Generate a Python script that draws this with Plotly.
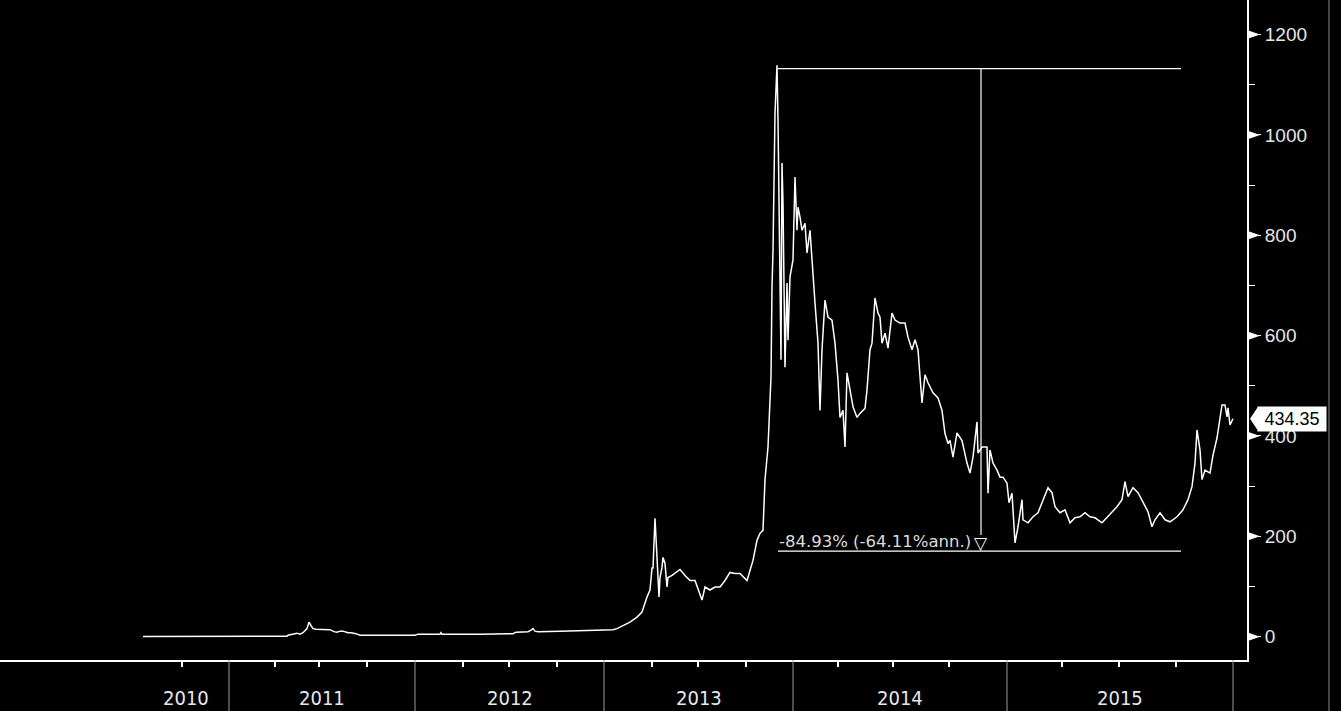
import plotly.graph_objects as go

# ---- data: Bloomberg session index (x) and XBT price in USD (y) ----
obs = [0, 17, 39, 57, 86, 107, 132, 144, 145, 150, 154, 157, 160, 164, 166, 168, 170, 173,
       177, 187, 191, 194, 197, 200, 205, 208, 213, 217, 227, 272, 275, 297, 298, 299, 337,
       370, 373, 385, 388, 390, 392, 395, 417, 445, 447, 470, 474, 479, 487, 494, 499, 504,
       507, 509, 510, 512, 514, 516, 517, 519, 520, 522, 524, 525, 529, 537, 542, 547, 552,
       557, 559, 562, 567, 572, 577, 582, 587, 592, 597, 604, 607, 610, 614, 617, 620, 622,
       625, 628, 629, 630, 632, 634, 635, 638, 639, 640, 642, 644, 645, 647, 650, 652, 654,
       655, 657, 659, 662, 664, 667, 669, 672, 675, 677, 679, 682, 685, 689, 692, 695, 697,
       700, 702, 704, 707, 710, 714, 717, 722, 724, 727, 729, 732, 735, 737, 739, 742, 745,
       749, 752, 757, 762, 765, 769, 772, 775, 779, 782, 785, 790, 795, 799, 802, 805, 807,
       810, 814, 819, 824, 827, 830, 834, 835, 839, 844, 845, 847, 850, 854, 857, 860, 864,
       866, 869, 872, 875, 879, 880, 885, 890, 895, 900, 905, 909, 912, 917, 922, 927, 932,
       937, 942, 947, 952, 959, 964, 969, 974, 979, 982, 985, 990, 995, 1000, 1005, 1009,
       1012, 1017, 1022, 1027, 1034, 1040, 1045, 1049, 1052, 1054, 1057, 1059, 1062, 1067,
       1070, 1074, 1077, 1079, 1082, 1084, 1085, 1087, 1090]
price = [0.1, 0.1, 0.1, 0.2, 0.3, 0.8, 0.8, 1, 3, 6, 7, 5, 8, 16, 29, 22, 16, 15,
         15, 14, 10, 9, 11, 11, 8, 8, 6, 3, 3, 3, 5, 5, 8, 5, 5,
         6, 9, 10, 13, 16, 11, 10, 11, 12, 13, 14, 16, 21, 29, 39, 49, 79,
         93, 137, 137, 236, 158, 79, 118, 138, 158, 146, 99, 118, 122, 134, 122, 112, 112,
         83, 73, 99, 93, 99, 99, 112, 128, 126, 126, 112, 132, 152, 192, 206, 212, 313,
         378, 518, 696, 770, 1043, 1139, 1029, 552, 944, 865, 537, 705, 591, 717, 751, 916, 810,
         856, 836, 810, 824, 765, 810, 745, 665, 585, 451, 572, 671, 637, 631, 585, 511, 437,
         451, 378, 526, 492, 458, 437, 445, 455, 492, 572, 585, 675, 645, 637, 585, 605,
         575, 645, 631, 625, 625, 597, 572, 592, 572, 466, 522, 506, 486, 476, 451, 405,
         385, 391, 358, 406, 391, 346, 326, 358, 428, 366, 378, 378, 286, 372, 346, 332,
         318, 318, 306, 267, 286, 187, 219, 273, 233, 227, 239, 247, 273, 297, 287, 259,
         247, 253, 227, 237, 239, 247, 239, 237, 227, 237, 249, 259, 273, 309, 279, 297,
         287, 269, 249, 219, 233, 247, 233, 229, 239, 253, 273, 299, 346, 412, 372, 313,
         332, 326, 362, 396, 438, 462, 462, 438, 456, 422, 434.35]

years = ["2010", "2011", "2012", "2013", "2014", "2015"]
year_start_obs = [0, 86, 272, 461, 650, 864]
year_end_obs = [86, 272, 461, 650, 864, 1090]
quarter_obs = [39, 132, 176, 224, 320, 366, 414, 509, 555, 603, 695, 750, 806, 919, 976, 1033]
y_ticks = [0, 200, 400, 600, 800, 1000, 1200]

peak_obs, peak_value = 635, 1132.26
trough_value = 170.6
measure_end_obs = 1038
arrow_obs = 838
drawdown_text = "-84.93% (-64.11%ann.)"
last_value = 434.35

X_RANGE = [-143, 1104]
Y_RANGE = [-46.5, 1269]

fig = go.Figure()
fig.add_trace(go.Scatter(x=obs, y=price, mode="lines",
                         line=dict(color="white", width=1.5), hoverinfo="skip",
                         showlegend=False))

shapes = []
# drawdown measurement lines
shapes.append(dict(type="line", xref="x", yref="y", x0=peak_obs, x1=measure_end_obs,
                   y0=peak_value, y1=peak_value, line=dict(color="white", width=1.3)))
shapes.append(dict(type="line", xref="x", yref="y", x0=peak_obs, x1=measure_end_obs,
                   y0=trough_value, y1=trough_value, line=dict(color="white", width=1.3)))
shapes.append(dict(type="line", xref="x", yref="y", x0=arrow_obs, x1=arrow_obs,
                   y0=peak_value, y1=trough_value + 32, line=dict(color="white", width=1.2)))
# year separators below the axis
for b in year_end_obs:
    shapes.append(dict(type="line", xref="x", yref="paper", x0=b, x1=b, y0=0, y1=-0.09,
                       line=dict(color="#9a9a9a", width=1)))
# arrow-shaped major y ticks
pw = 1247.0
ppu = 660.0 / (Y_RANGE[1] - Y_RANGE[0])
for v in y_ticks:
    h = 4.5 / ppu
    shapes.append(dict(type="path", xref="paper", yref="y",
                       path=f"M 1.0,{v - h} L 1.0,{v + h} L {1 + 13 / pw},{v} Z",
                       fillcolor="white", line=dict(color="white", width=0)))
# last price pointer
h = 12 / ppu
shapes.append(dict(type="path", xref="paper", yref="y",
                   path=f"M {1250 / pw},{last_value} L {1258 / pw},{last_value + h} L {1258 / pw},{last_value - h} Z",
                   fillcolor="white", line=dict(color="white", width=0)))
# right border line
shapes.append(dict(type="line", xref="paper", yref="paper", x0=1329 / pw, x1=1329 / pw,
                   y0=-0.1, y1=1.0, line=dict(color="#444444", width=2)))

annotations = []
for yr, a, b in zip(years, year_start_obs, year_end_obs):
    annotations.append(dict(x=(a + b) / 2, y=-0.057, xref="x", yref="paper", text=yr,
                            showarrow=False, xanchor="center", yanchor="middle",
                            font=dict(family="Liberation Sans Narrow, DejaVu Sans Condensed",
                                      size=20, color="#e8e8e8")))
annotations.append(dict(x=arrow_obs - 8, y=trough_value + 19, xref="x", yref="y",
                        text=drawdown_text, showarrow=False, xanchor="right", yanchor="middle",
                        font=dict(family="DejaVu Sans", size=16.5, color="#dcdcdc")))
annotations.append(dict(x=arrow_obs, y=trough_value + 16, xref="x", yref="y", text="▽",
                        showarrow=False, xanchor="center", yanchor="middle",
                        font=dict(family="DejaVu Sans", size=17, color="white")))
annotations.append(dict(x=1, xshift=10, y=last_value, xref="paper", yref="y",
                        text="434.35", showarrow=False, xanchor="left", yanchor="middle",
                        bgcolor="white", width=68, height=24, borderpad=0,
                        font=dict(family="Liberation Sans", size=18, color="black")))

fig.update_layout(
    width=1341, height=711,
    margin=dict(l=0, r=94, t=0, b=51),
    paper_bgcolor="black", plot_bgcolor="black",
    showlegend=False,
    shapes=shapes, annotations=annotations,
    xaxis=dict(range=X_RANGE, showgrid=False, zeroline=False,
               showline=True, linecolor="white", linewidth=2,
               tickmode="array", tickvals=quarter_obs, ticks="outside", ticklen=5,
               tickwidth=2, tickcolor="white", showticklabels=False),
    yaxis=dict(range=Y_RANGE, side="right", showgrid=False, zeroline=False,
               showline=True, linecolor="white", linewidth=2,
               tickmode="array", tickvals=y_ticks, ticks="outside", ticklen=12,
               tickwidth=1, tickcolor="white",
               tickfont=dict(family="Liberation Sans", size=19, color="#e6e6e6"),
               minor=dict(tickmode="array", tickvals=[100, 300, 500, 700, 900, 1100],
                          ticks="outside", ticklen=6, tickwidth=1, tickcolor="white")),
)

fig.write_html("out.html", config={"displayModeBar": False},
               post_script="document.body.style.margin='0';document.body.style.background='black';")
